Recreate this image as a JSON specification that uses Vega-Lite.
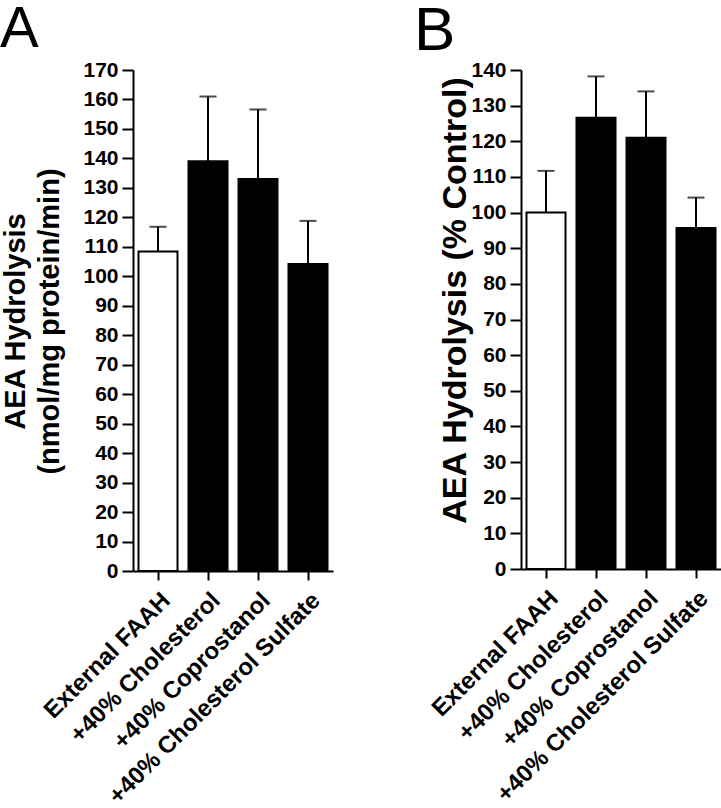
{
  "$schema": "https://vega.github.io/schema/vega-lite/v6.json",
  "padding": {"left": 0, "top": 0, "right": 0, "bottom": 0},
  "background": "white",
  "config": {
    "font": "Liberation Sans",
    "view": {"stroke": null},
    "axis": {
      "grid": false,
      "domainColor": "black",
      "domainWidth": 2,
      "tickColor": "black",
      "tickWidth": 2,
      "labelColor": "black",
      "labelFont": "Liberation Sans",
      "labelFontWeight": "bold",
      "labelFontSize": 21,
      "labelOverlap": false,
      "labelLimit": 0,
      "titleColor": "black",
      "titleFont": "Liberation Sans",
      "titleFontWeight": "bold",
      "titleFontSize": 29
    },
    "title": {"font": "Liberation Sans", "fontWeight": "normal", "color": "black", "anchor": "start", "frame": "group"}
  },
  "datasets": {
    "a": [
      {"group": "External FAAH", "mean": 108.4, "upper": 116.8},
      {"group": "+40% Cholesterol", "mean": 139.0, "upper": 161.0},
      {"group": "+40% Coprostanol", "mean": 133.0, "upper": 156.6},
      {"group": "+40% Cholesterol Sulfate", "mean": 104.2, "upper": 118.8}
    ],
    "b": [
      {"group": "External FAAH", "mean": 100.0, "upper": 111.7},
      {"group": "+40% Cholesterol", "mean": 126.6, "upper": 138.2},
      {"group": "+40% Coprostanol", "mean": 121.0, "upper": 134.0},
      {"group": "+40% Cholesterol Sulfate", "mean": 95.7, "upper": 104.2}
    ]
  },
  "spacing": 81,
  "hconcat": [
    {
      "title": {"text": "A", "fontSize": 58, "dx": -133, "offset": 0},
      "width": 200,
      "height": 501,
      "data": {"name": "a"},
      "encoding": {
        "x": {
          "field": "group", "type": "nominal", "sort": null,
          "scale": {"paddingInner": 0.22, "paddingOuter": 0.11},
          "axis": {"title": null, "labelAngle": -45, "labelFontSize": 24, "tickSize": 9, "labelPadding": 8}
        }
      },
      "layer": [
        {
          "mark": {"type": "bar", "stroke": "black", "strokeWidth": 2},
          "encoding": {
            "y": {
              "field": "mean", "type": "quantitative",
              "scale": {"domain": [0, 170], "nice": false},
              "axis": {
                "values": [0, 10, 20, 30, 40, 50, 60, 70, 80, 90, 100, 110, 120, 130, 140, 150, 160, 170],
                "title": ["AEA Hydrolysis", "(nmol/mg protein/min)"],
                "tickSize": 11, "labelPadding": 4,
                "titleX": -109, "titleY": 251, "titleBaseline": "alphabetic", "titleAngle": -90, "titleAlign": "center", "titleLineHeight": 34
              }
            },
            "fill": {"condition": {"test": "datum.group === 'External FAAH'", "value": "white"}, "value": "black"}
          }
        },
        {
          "mark": {"type": "rule", "color": "black", "strokeWidth": 2},
          "encoding": {
            "y": {
              "field": "mean", "type": "quantitative",
              "axis": {
                "values": [0, 10, 20, 30, 40, 50, 60, 70, 80, 90, 100, 110, 120, 130, 140, 150, 160, 170],
                "title": ["AEA Hydrolysis", "(nmol/mg protein/min)"],
                "tickSize": 11, "labelPadding": 4,
                "titleX": -109, "titleY": 251, "titleBaseline": "alphabetic", "titleAngle": -90, "titleAlign": "center", "titleLineHeight": 34
              }
            },
            "y2": {"field": "upper"}
          }
        },
        {
          "mark": {"type": "tick", "color": "black", "size": 17, "thickness": 2},
          "encoding": {
            "y": {
              "field": "upper", "type": "quantitative",
              "axis": {
                "values": [0, 10, 20, 30, 40, 50, 60, 70, 80, 90, 100, 110, 120, 130, 140, 150, 160, 170],
                "title": ["AEA Hydrolysis", "(nmol/mg protein/min)"],
                "tickSize": 11, "labelPadding": 4,
                "titleX": -109, "titleY": 251, "titleBaseline": "alphabetic", "titleAngle": -90, "titleAlign": "center", "titleLineHeight": 34
              }
            }
          }
        }
      ]
    },
    {
      "title": {"text": "B", "fontSize": 62, "dx": -107, "offset": -4},
      "width": 200,
      "height": 499,
      "data": {"name": "b"},
      "encoding": {
        "x": {
          "field": "group", "type": "nominal", "sort": null,
          "scale": {"paddingInner": 0.22, "paddingOuter": 0.11},
          "axis": {"title": null, "labelAngle": -45, "labelFontSize": 24, "tickSize": 9, "labelPadding": 8}
        }
      },
      "layer": [
        {
          "mark": {"type": "bar", "stroke": "black", "strokeWidth": 2},
          "encoding": {
            "y": {
              "field": "mean", "type": "quantitative",
              "scale": {"domain": [0, 140], "nice": false},
              "axis": {
                "values": [0, 10, 20, 30, 40, 50, 60, 70, 80, 90, 100, 110, 120, 130, 140],
                "title": "AEA Hydrolysis (% Control)",
                "titleFontSize": 34,
                "tickSize": 11, "labelPadding": 4,
                "titleX": -56, "titleY": 230, "titleBaseline": "alphabetic", "titleAngle": -90, "titleAlign": "center"
              }
            },
            "fill": {"condition": {"test": "datum.group === 'External FAAH'", "value": "white"}, "value": "black"}
          }
        },
        {
          "mark": {"type": "rule", "color": "black", "strokeWidth": 2},
          "encoding": {
            "y": {
              "field": "mean", "type": "quantitative",
              "axis": {
                "values": [0, 10, 20, 30, 40, 50, 60, 70, 80, 90, 100, 110, 120, 130, 140],
                "title": "AEA Hydrolysis (% Control)",
                "titleFontSize": 34,
                "tickSize": 11, "labelPadding": 4,
                "titleX": -56, "titleY": 230, "titleBaseline": "alphabetic", "titleAngle": -90, "titleAlign": "center"
              }
            },
            "y2": {"field": "upper"}
          }
        },
        {
          "mark": {"type": "tick", "color": "black", "size": 17, "thickness": 2},
          "encoding": {
            "y": {
              "field": "upper", "type": "quantitative",
              "axis": {
                "values": [0, 10, 20, 30, 40, 50, 60, 70, 80, 90, 100, 110, 120, 130, 140],
                "title": "AEA Hydrolysis (% Control)",
                "titleFontSize": 34,
                "tickSize": 11, "labelPadding": 4,
                "titleX": -56, "titleY": 230, "titleBaseline": "alphabetic", "titleAngle": -90, "titleAlign": "center"
              }
            }
          }
        }
      ]
    }
  ]
}
